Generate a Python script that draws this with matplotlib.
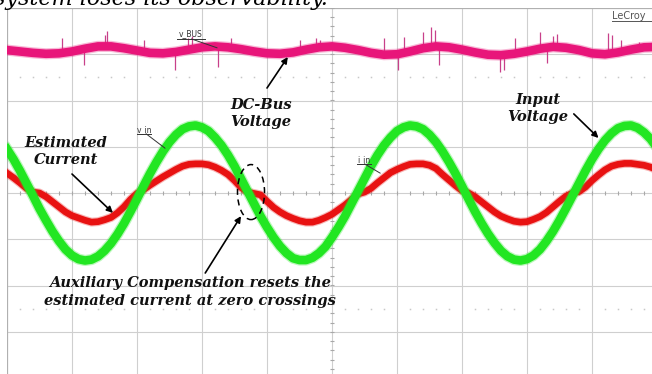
import numpy as np
import matplotlib.pyplot as plt
from matplotlib.patches import Ellipse

# scope screen: 10 div x 5 ms, 8 div vertical (values in divisions)
t_half = [k * 0.5 for k in range(101)]

# input voltage v_in (green), read every 0.5 ms
vin = [0.95, 0.73, 0.48, 0.21, -0.06, -0.34, -0.59, -0.83, -1.04, -1.22,
       -1.35, -1.43, -1.46, -1.44, -1.37, -1.25, -1.09, -0.89, -0.66, -0.40,
       -0.13, 0.15, 0.42, 0.67, 0.90, 1.10, 1.26, 1.38, 1.44, 1.46,
       1.42, 1.34, 1.20, 1.03, 0.82, 0.58, 0.31, 0.04, -0.23, -0.50,
       -0.74, -0.96, -1.15, -1.30, -1.41, -1.45, -1.45, -1.40, -1.30, -1.16,
       -0.96, -0.74, -0.50, -0.23, 0.04, 0.31, 0.58, 0.82, 1.03, 1.20,
       1.34, 1.42, 1.46, 1.44, 1.38, 1.26, 1.10, 0.90, 0.67, 0.42,
       0.15, -0.13, -0.40, -0.65, -0.88, -1.08, -1.25, -1.37, -1.44, -1.46,
       -1.43, -1.35, -1.22, -1.04, -0.83, -0.59, -0.33, -0.06, 0.21, 0.48,
       0.73, 0.95, 1.14, 1.29, 1.40, 1.45, 1.46, 1.41, 1.31, 1.17, 0.98]

# estimated current i_in (red), read every 0.5 ms
iin = [0.43, 0.33, 0.22, 0.10, 0.02, 0.0, -0.08, -0.19, -0.30, -0.41,
       -0.49, -0.54, -0.59, -0.63, -0.62, -0.58, -0.53, -0.43, -0.30, -0.14,
       -0.01, 0.07, 0.17, 0.26, 0.35, 0.43, 0.51, 0.58, 0.62, 0.63,
       0.63, 0.61, 0.56, 0.49, 0.40, 0.27, 0.12, 0.02, -0.01, -0.04,
       -0.18, -0.31, -0.41, -0.49, -0.55, -0.60, -0.63, -0.63, -0.59, -0.53,
       -0.46, -0.36, -0.26, -0.14, -0.02, 0.02, 0.10, 0.22, 0.33, 0.44,
       0.51, 0.57, 0.62, 0.63, 0.63, 0.60, 0.53, 0.40, 0.28, 0.16,
       0.05, 0.0, -0.08, -0.19, -0.30, -0.41, -0.50, -0.56, -0.61, -0.63,
       -0.62, -0.57, -0.51, -0.42, -0.30, -0.18, -0.07, 0.0, 0.03, 0.13,
       0.27, 0.39, 0.50, 0.58, 0.62, 0.64, 0.64, 0.62, 0.60, 0.56, 0.50]

# DC bus voltage v_BUS (pink), read every 1 ms
bus_t = list(range(51))
bus = [3.09, 3.06, 3.03, 3.01, 3.02, 3.06, 3.12, 3.17, 3.17, 3.13,
       3.08, 3.03, 3.02, 3.05, 3.10, 3.15, 3.17, 3.15, 3.11, 3.06,
       3.02, 3.01, 3.04, 3.10, 3.15, 3.17, 3.14, 3.09, 3.03, 2.99,
       3.00, 3.06, 3.13, 3.17, 3.15, 3.10, 3.04, 2.99, 2.98, 3.01,
       3.06, 3.12, 3.16, 3.14, 3.09, 3.02, 3.00, 3.04, 3.10, 3.15, 3.16]

# switching spikes on the bus trace: time, tip
spike_t = [4.2, 5.9, 7.5, 7.7, 10.5, 12.9, 13.9, 14.2, 16.2, 17.2, 22.5,
           23.8, 24.1, 29.0, 30.1, 30.5, 32.0, 32.6, 32.9, 33.2, 37.9,
           38.2, 39.1, 41.0, 41.5, 42.0, 42.3, 46.2, 46.5, 47.2, 48.6]
spike_tip = [3.35, 2.77, 3.42, 3.50, 3.31, 2.66, 3.35, 3.39, 2.72, 3.35,
             3.31, 3.35, 3.31, 3.35, 2.66, 3.37, 3.48, 3.59, 3.52, 2.77,
             2.62, 2.66, 3.35, 3.48, 2.81, 3.39, 3.44, 3.46, 3.42, 3.31, 3.26]

fig = plt.figure(figsize=(6.52, 3.74), dpi=100)
ax = fig.add_axes([7 / 652, -4 / 374, 650 / 652, 370 / 374])
ax.set_xlim(0, 50)
ax.set_ylim(-4, 4)
ax.axis('off')

gc = '#cfcfcf'
for x in range(5, 50, 5):
    ax.axvline(x, color=gc, lw=0.8, zorder=0)
for y in range(-3, 4):
    ax.axhline(y, color=gc, lw=0.8, zorder=0)
ax.axhline(4, color='#b0b0b0', lw=0.9, zorder=0)
ax.axvline(0, color='#b0b0b0', lw=0.9, zorder=0)

# centre ticks and dotted marker lines
ht = np.arange(1, 50)
ax.vlines(ht, -0.05, 0.05, color='#a8a8a8', lw=0.8, zorder=0)
vt = np.arange(-4, 4.01, 0.2)
ax.hlines(vt, 24.85, 25.15, color='#a8a8a8', lw=0.8, zorder=0)
dots = [d for d in ht if d % 5 != 0]
for yd in (2.5, -2.5):
    ax.plot(dots, [yd] * len(dots), ls='none', marker='s', ms=1.1,
            color='#c8c8c8', mew=0, zorder=0)

# traces
pink = '#e8157a'
ax.vlines(spike_t, np.interp(spike_t, bus_t, bus), spike_tip,
          color='#c8408a', lw=0.9, zorder=2)
ax.plot(bus_t, bus, color=pink, lw=8.0, alpha=0.3, zorder=2)
ax.plot(bus_t, bus, color=pink, lw=6.2, zorder=2)

red = '#e81212'
ax.plot(t_half, iin, color=red, lw=6.4, alpha=0.3, zorder=3)
ax.plot(t_half, iin, color=red, lw=4.8, zorder=3)

green = '#22e622'
ax.plot(t_half, vin, color=green, lw=8.0, alpha=0.3, zorder=4)
ax.plot(t_half, vin, color=green, lw=6.2, zorder=4)

# scope labels
lab = dict(fontsize=5.5, color='#333333', family='DejaVu Sans', zorder=6)
ax.text(14.15, 3.44, 'v_BUS', ha='center', va='center', **lab)
ax.plot([13.1, 15.2], [3.33, 3.33], color='#333333', lw=0.7, zorder=6)
ax.plot([14.2, 16.15], [3.33, 3.14], color='#333333', lw=0.7, zorder=6)
ax.text(10.55, 1.38, 'v_in', ha='center', va='center', **lab)
ax.plot([10.0, 11.1], [1.28, 1.28], color='#333333', lw=0.7, zorder=6)
ax.plot([10.7, 12.15], [1.28, 0.97], color='#333333', lw=0.7, zorder=6)
ax.text(27.45, 0.73, 'i_in', ha='center', va='center', **lab)
ax.plot([26.9, 28.0], [0.63, 0.63], color='#333333', lw=0.7, zorder=6)
ax.plot([27.5, 28.7], [0.63, 0.43], color='#333333', lw=0.7, zorder=6)
ax.text(46.55, 3.83, 'LeCroy', ha='left', va='center', fontsize=7,
        color='#555555', family='DejaVu Sans', zorder=6)
ax.plot([46.55, 50], [3.71, 3.71], color='#555555', lw=0.7, zorder=6)

# annotations
af = dict(family=['DejaVu Serif Condensed', 'DejaVu Serif'], style='italic',
          weight='bold', fontsize=10.5, color='#111111', ha='center',
          va='center', linespacing=1.3, zorder=7)
ap = dict(arrowstyle='-|>', color='black', lw=1.2, mutation_scale=9,
          shrinkA=0, shrinkB=0)
ax.text(19.55, 1.72, 'DC-Bus\nVoltage', **af)
ax.annotate('', xy=(21.6, 2.94), xytext=(20.0, 2.27), arrowprops=ap, zorder=7)
ax.text(40.85, 1.83, 'Input\nVoltage', **af)
ax.annotate('', xy=(45.5, 1.19), xytext=(43.6, 1.71), arrowprops=ap, zorder=7)
ax.text(4.55, 0.89, 'Estimated\nCurrent', **af)
ax.annotate('', xy=(8.15, -0.43), xytext=(5.0, 0.41), arrowprops=ap, zorder=7)
ax.text(14.1, -2.14, 'Auxiliary Compensation resets the\n'
        'estimated current at zero crossings', **af)
ax.annotate('', xy=(18.0, -0.5), xytext=(15.25, -1.73), arrowprops=ap, zorder=7)
ax.add_patch(Ellipse((18.77, 0.02), 2.08, 1.19, fill=False, ls=(0, (4, 3)),
                     lw=1.1, ec='black', zorder=7))

# caption line cut off by the top of the image
fig.text(-6 / 652, 1 - 4.5 / 374, 'system loses its observability.',
         family='DejaVu Serif', style='italic', fontsize=16, va='baseline',
         ha='left', color='black')

fig.savefig('out.png', dpi=100)
